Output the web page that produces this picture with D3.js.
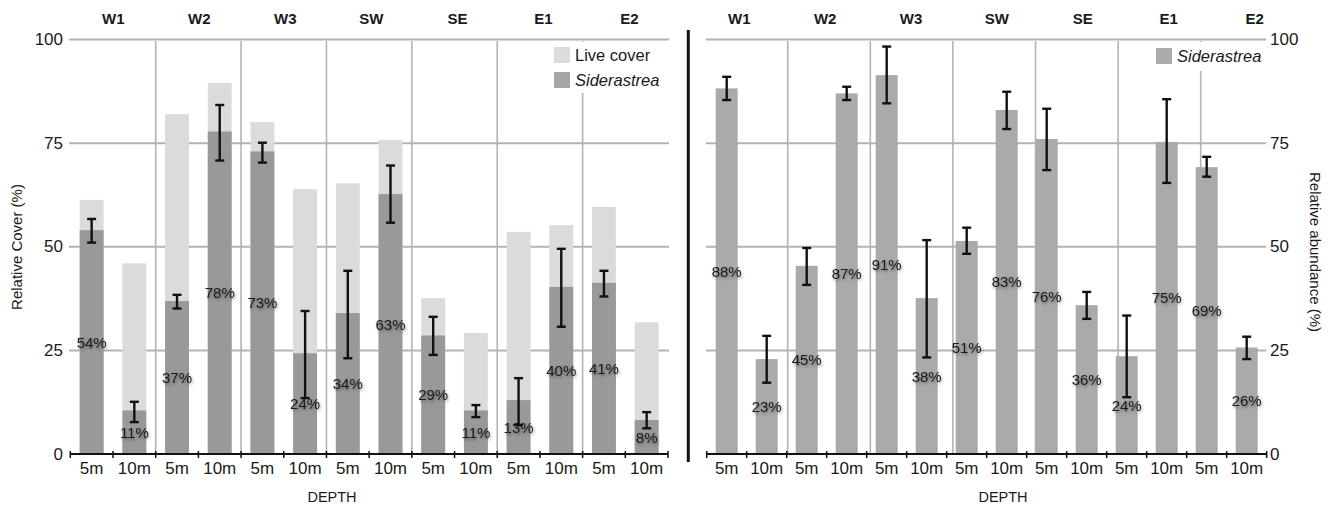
<!DOCTYPE html>
<html>
<head>
<meta charset="utf-8">
<script src="https://cdn.jsdelivr.net/npm/d3@7"></script>
<style>
  html, body { margin: 0; padding: 0; background: #fff; }
  svg { display: block; font-family: "Liberation Sans", Arial, Helvetica, sans-serif; }
</style>
</head>
<body>
<svg id="chart" width="1333" height="507"></svg>
<script>
// ---------- data ----------
const sites = ["W1", "W2", "W3", "SW", "SE", "E1", "E2"];
const depths = ["5m", "10m"];
const yTicks = [0, 25, 50, 75, 100];

// Left panel: relative cover (%)
const liveCover = [61.3, 46.0, 82.0, 89.5, 80.1, 63.9, 65.3, 75.8, 37.6, 29.2, 53.6, 55.2, 59.6, 31.8];
const sidCover = [54.0, 10.5, 36.9, 77.8, 73.0, 24.3, 34.0, 62.7, 28.6, 10.5, 13.0, 40.3, 41.3, 8.2];
const sidCoverHi = [56.7, 12.6, 38.4, 84.2, 75.1, 34.5, 44.2, 69.6, 33.1, 11.8, 18.3, 49.5, 44.2, 10.1];
const sidCoverLo = [51.0, 7.7, 35.1, 70.8, 70.3, 13.5, 23.1, 55.8, 23.9, 8.9, 7.0, 30.7, 38.0, 6.2];

// Right panel: relative abundance (%)
const sidAbund = [88.2, 22.9, 45.4, 87.0, 91.4, 37.6, 51.4, 83.0, 76.0, 35.9, 23.6, 75.3, 69.2, 25.7];
const sidAbundHi = [91.0, 28.5, 49.7, 88.6, 98.3, 51.6, 54.6, 87.4, 83.3, 39.1, 33.4, 85.6, 71.7, 28.3];
const sidAbundLo = [85.4, 17.2, 40.8, 85.4, 84.6, 23.3, 48.3, 78.4, 68.5, 32.6, 13.7, 65.4, 66.9, 22.9];

// ---------- setup ----------
const keys = [];
sites.forEach(s => depths.forEach(d => keys.push(s + "|" + d)));

const svg = d3.select("#chart");
const defs = svg.append("defs");
const f = defs.append("filter").attr("id", "glow").attr("x", "-30%").attr("y", "-50%").attr("width", "160%").attr("height", "200%");
f.append("feDropShadow").attr("dx", 1).attr("dy", 1.5).attr("stdDeviation", 1.6)
  .attr("flood-color", "#000").attr("flood-opacity", 0.45);

const y = d3.scaleLinear().domain([0, 100]).range([454, 39.5]);

const GRID = "#b3b3b3";
const LIGHT = "#dadcdc";
const DARK = "#999999";
const RIGHTBAR = "#aaaaaa";

function panel(opts) {
  const g = svg.append("g");
  const x = d3.scaleBand().domain(keys).range(opts.range)
    .paddingInner(opts.pad).paddingOuter(opts.pad / 2);
  const step = x.step();
  const edge = k => x(k) + x.bandwidth() / 2 - step / 2;

  // horizontal grid
  g.append("g").selectAll("line").data(yTicks.filter(t => t > 0)).join("line")
    .attr("x1", opts.gridX[0]).attr("x2", opts.gridX[1])
    .attr("y1", d => y(d)).attr("y2", d => y(d))
    .attr("stroke", GRID).attr("stroke-width", 2);

  // vertical grid between sites
  g.append("g").selectAll("line").data(sites.slice(1)).join("line")
    .attr("x1", s => opts.vgrid(s)).attr("x2", s => opts.vgrid(s))
    .attr("y1", y(100) + 1.5).attr("y2", y(0))
    .attr("stroke", GRID).attr("stroke-width", 1.6);

  // legend background (covers grid)
  g.append("rect").attr("x", opts.legendBg[0]).attr("y", opts.legendBg[1])
    .attr("width", opts.legendBg[2]).attr("height", opts.legendBg[3]).attr("fill", "#fff");

  // bars
  if (opts.back) {
    g.append("g").selectAll("rect").data(keys).join("rect")
      .attr("x", k => x(k)).attr("width", x.bandwidth())
      .attr("y", (k, i) => y(opts.back[i])).attr("height", (k, i) => y(0) - y(opts.back[i]))
      .attr("fill", LIGHT);
  }
  g.append("g").selectAll("rect").data(keys).join("rect")
    .attr("x", k => x(k)).attr("width", x.bandwidth())
    .attr("y", (k, i) => y(opts.vals[i])).attr("height", (k, i) => y(0) - y(opts.vals[i]))
    .attr("fill", opts.barColor);

  // percentage labels
  g.append("g").selectAll("text").data(keys).join("text")
    .attr("x", k => x(k) + x.bandwidth() / 2)
    .attr("y", (k, i) => y(opts.vals[i] / 2))
    .attr("text-anchor", "middle").attr("dominant-baseline", "central")
    .attr("font-size", 15).attr("fill", "#1a1a1a").attr("filter", "url(#glow)")
    .text((k, i) => Math.round(opts.vals[i]) + "%");

  // error bars
  const eb = g.append("g").attr("stroke", "#111").attr("stroke-width", 2.4);
  keys.forEach((k, i) => {
    const cx = x(k) + x.bandwidth() / 2;
    const hi = y(opts.hi[i]), lo = y(opts.lo[i]);
    eb.append("line").attr("x1", cx).attr("x2", cx).attr("y1", hi).attr("y2", lo);
    eb.append("line").attr("x1", cx - 4.5).attr("x2", cx + 4.5).attr("y1", hi).attr("y2", hi);
    eb.append("line").attr("x1", cx - 4.5).attr("x2", cx + 4.5).attr("y1", lo).attr("y2", lo);
  });

  // x axis
  const ax = g.append("g").attr("transform", `translate(0,${y(0)})`)
    .call(d3.axisBottom(x).tickSize(0).tickPadding(8).tickFormat(k => k.split("|")[1]));
  ax.select(".domain").remove();
  ax.selectAll("text").attr("font-size", 17).attr("fill", "#1a1a1a").attr("font-family", null);
  g.append("line").attr("x1", opts.range[0]).attr("x2", opts.range[1])
    .attr("y1", y(0)).attr("y2", y(0)).attr("stroke", "#111").attr("stroke-width", 2);
  const bounds = keys.map(edge).concat([opts.range[1]]);
  g.append("g").selectAll("line").data(bounds).join("line")
    .attr("x1", d => d).attr("x2", d => d).attr("y1", y(0) - 3).attr("y2", y(0) + 4)
    .attr("stroke", "#111").attr("stroke-width", 1.5);

  // site labels on top
  const t = d3.scaleBand().domain(sites).range(opts.topRange);
  g.append("g").selectAll("text").data(sites).join("text")
    .attr("x", s => t(s) + t.bandwidth() / 2).attr("y", 24)
    .attr("text-anchor", "middle").attr("font-size", 15).attr("font-weight", "bold")
    .attr("fill", "#1a1a1a").text(s => s);

  // y tick labels
  g.append("g").selectAll("text").data(yTicks).join("text")
    .attr("x", opts.yLabX).attr("y", d => y(d))
    .attr("text-anchor", opts.yAnchor).attr("dominant-baseline", "central")
    .attr("font-size", 17).attr("fill", "#1a1a1a").text(d => d);

  // depth title
  g.append("text").attr("x", opts.depthX).attr("y", 502).attr("text-anchor", "middle")
    .attr("font-size", 14.5).attr("fill", "#1a1a1a").text("DEPTH");

  // y title
  g.append("text").attr("transform", `translate(${opts.yTitle[0]},${opts.yTitle[1]}) rotate(${opts.yTitle[2]})`)
    .attr("text-anchor", "middle").attr("dominant-baseline", "central")
    .attr("font-size", 15).attr("fill", "#1a1a1a").text(opts.yTitleText);

  // legend
  opts.legend.forEach((L, i) => {
    g.append("rect").attr("x", opts.legendPos[0]).attr("y", opts.legendPos[1] + i * 25)
      .attr("width", 16).attr("height", 16).attr("fill", L.color);
    g.append("text").attr("x", opts.legendPos[0] + 21).attr("y", opts.legendPos[1] + i * 25 + 13.5)
      .attr("font-size", 16.5).attr("fill", "#1a1a1a")
      .attr("font-style", L.italic ? "italic" : null).text(L.label);
  });
}

// left panel
const xLeftGroups = d3.scaleBand().domain(sites).range([70.3, 668]);
panel({
  range: [70.3, 668], pad: 0.44, gridX: [69, 669],
  vgrid: s => xLeftGroups(s),
  back: liveCover, vals: sidCover, hi: sidCoverHi, lo: sidCoverLo, barColor: DARK,
  topRange: [70.3, 672.5], yLabX: 63, yAnchor: "end", depthX: 332,
  yTitle: [16, 247, -90], yTitleText: "Relative Cover (%)",
  legendBg: [548, 42, 120, 51],
  legendPos: [554, 47],
  legend: [{ label: "Live cover", color: LIGHT }, { label: "Siderastrea", color: "#a6a6a6", italic: true }]
});

// right panel
const xRightGroups = d3.scaleBand().domain(sites).range([705.1, 1283.3]);
panel({
  range: [706.7, 1266.7], pad: 0.45, gridX: [706, 1266],
  vgrid: s => xRightGroups(s),
  back: null, vals: sidAbund, hi: sidAbundHi, lo: sidAbundLo, barColor: RIGHTBAR,
  topRange: [696.3, 1297.5], yLabX: 1270, yAnchor: "start", depthX: 1003,
  yTitle: [1315, 252, 90], yTitleText: "Relative abundance (%)",
  legendBg: [1150, 42, 115, 29],
  legendPos: [1156, 48],
  legend: [{ label: "Siderastrea", color: RIGHTBAR, italic: true }]
});

// separator
svg.append("line").attr("x1", 688.3).attr("x2", 688.3).attr("y1", 30).attr("y2", 462)
  .attr("stroke", "#111").attr("stroke-width", 3);
</script>
</body>
</html>
